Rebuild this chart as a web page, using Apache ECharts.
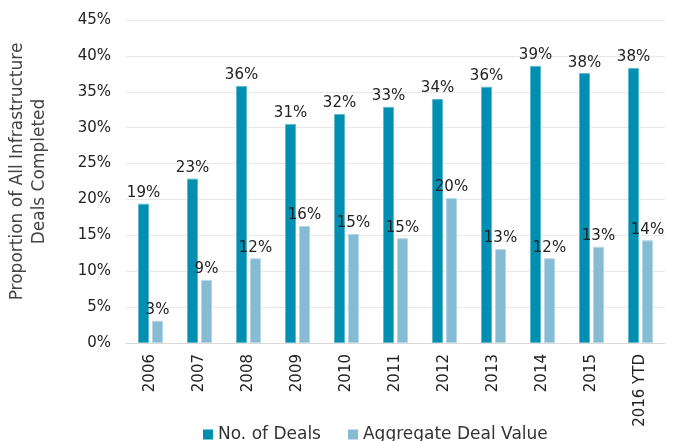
<!DOCTYPE html>
<html>
<head>
<meta charset="utf-8">
<script src="https://cdn.jsdelivr.net/npm/echarts@6/dist/echarts.min.js"></script>
<style>
  html, body { margin: 0; padding: 0; background: #fff; }
  #chart { width: 683px; height: 441px; }
</style>
</head>
<body>
<div id="chart"></div>
<script>
// categories and values (percent)
const years = ['2006', '2007', '2008', '2009', '2010', '2011', '2012', '2013', '2014', '2015', '2016 YTD'];
const dealCount = [19.4, 22.9, 35.8, 30.5, 31.9, 32.9, 34.0, 35.7, 38.6, 37.6, 38.3];
const dealValue = [3.1, 8.8, 11.8, 16.3, 15.2, 14.6, 20.2, 13.1, 11.8, 13.4, 14.3];
const seriesNames = ['No. of Deals', 'Aggregate Deal Value'];

const fontFamily = '"DejaVu Sans", sans-serif';

const chart = echarts.init(document.getElementById('chart'));

const pctLabel = {
    show: true,
    position: 'top',
    distance: 3,
    color: '#222',
    fontSize: 15,
    fontFamily: fontFamily,
    formatter: (p) => Math.round(p.value) + '%'
};

const option = {
    animation: false,
    grid: {
        left: 126,
        right: 18,
        top: 20,
        bottom: 98,
        containLabel: false,
        outerBoundsMode: 'none'
    },
    legend: {
        top: 421,
        left: 198,
        itemWidth: 10,
        itemHeight: 10,
        itemGap: 27,
        icon: 'rect',
        itemStyle: { borderWidth: 0 },
        textStyle: {
            color: '#333',
            fontSize: 17,
            fontFamily: fontFamily
        },
        data: seriesNames
    },
    xAxis: {
        type: 'category',
        data: years,
        axisLine: { lineStyle: { color: '#d9d9d9', width: 1 } },
        axisTick: { show: false },
        axisLabel: {
            rotate: 90,
            color: '#222',
            fontSize: 15,
            fontFamily: fontFamily,
            margin: 11
        }
    },
    yAxis: {
        type: 'value',
        min: 0,
        max: 45,
        interval: 5,
        name: 'Proportion of All Infrastructure\nDeals Completed',
        nameLocation: 'middle',
        nameGap: 75,
        nameTextStyle: {
            color: '#444',
            fontSize: 17,
            fontFamily: fontFamily,
            lineHeight: 22,
            padding: [0, 0, 0, 20]
        },
        axisLine: { show: false },
        axisTick: { show: false },
        axisLabel: {
            color: '#222',
            fontSize: 15,
            fontFamily: fontFamily,
            margin: 15,
            formatter: '{value}%'
        },
        splitLine: { lineStyle: { color: '#e8e8e8', width: 1 } }
    },
    series: [
        {
            name: seriesNames[0],
            type: 'bar',
            data: dealCount,
            barWidth: 11,
            barGap: '27%',
            itemStyle: {
                color: '#008fb0',
                borderColor: '#5fb8cc',
                borderWidth: 1
            },
            label: pctLabel
        },
        {
            name: seriesNames[1],
            type: 'bar',
            data: dealValue,
            barWidth: 11,
            itemStyle: {
                color: '#86bbd4',
                borderColor: '#b5d6e6',
                borderWidth: 1
            },
            label: pctLabel
        }
    ]
};

chart.setOption(option);
</script>
</body>
</html>
